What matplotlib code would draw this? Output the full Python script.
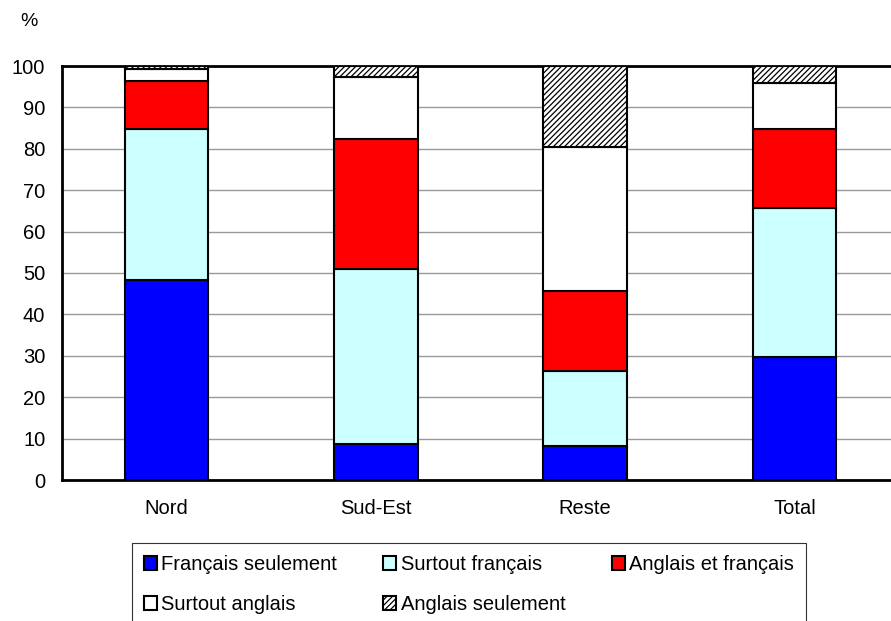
import numpy as np
import matplotlib.pyplot as plt
from matplotlib.patches import Patch

plt.rcParams['font.family'] = ['Liberation Sans', 'DejaVu Sans']
plt.rcParams['hatch.linewidth'] = 0.9

regions = ["Nord", "Sud-Est", "Reste", "Total"]
series = ["Français seulement", "Surtout français", "Anglais et français",
          "Surtout anglais", "Anglais seulement"]

fr_only = [48.3, 8.7, 8.2, 29.7]
mostly_fr = [36.5, 42.3, 18.1, 36.0]
en_fr = [11.6, 31.4, 19.4, 19.2]
mostly_en = [2.9, 14.9, 34.8, 10.9]
en_only = [0.7, 2.7, 19.5, 4.2]

values = [fr_only, mostly_fr, en_fr, mostly_en, en_only]
colors = ["#0000FF", "#CCFFFF", "#FF0000", "#FFFFFF", "#FFFFFF"]
hatches = [None, None, None, None, "//////"]

fig = plt.figure(figsize=(8.91, 6.21), dpi=100)
ax = fig.add_axes([62 / 891, 141 / 621, 837 / 891, 414 / 621])

x = np.arange(len(regions))
bottom = np.zeros(len(regions))
for vals, col, h in zip(values, colors, hatches):
    ax.bar(x, vals, width=0.4, bottom=bottom, color=col, edgecolor="black",
           linewidth=1.5, hatch=h, zorder=3)
    bottom += np.array(vals)

ax.set_xlim(-0.5, 3.5)
ax.set_ylim(0, 100)
ax.set_yticks(range(0, 101, 10))
ax.set_xticks(x)
ax.set_xticklabels(regions)
ax.tick_params(axis="both", length=0, labelsize=14.5)
ax.tick_params(axis="y", pad=12)
ax.tick_params(axis="x", pad=14)
ax.yaxis.grid(True, color="#999999", linewidth=1)
ax.set_axisbelow(True)
for s in ["left", "bottom", "top"]:
    ax.spines[s].set_linewidth(2)
ax.spines["right"].set_visible(False)

fig.text(20 / 891, 1 - 21 / 621, "%", fontsize=14, va="center")

# reorder so the legend reads row by row
order = [0, 3, 1, 4, 2]
handles = [Patch(facecolor=colors[i], edgecolor="black", hatch=hatches[i],
                 linewidth=1.5) for i in order]
labels = [series[i] for i in order]
leg = fig.legend(handles, labels, ncol=3, loc="upper left",
                 bbox_to_anchor=(132 / 891, 1 - 543 / 621), fontsize=14.5,
                 frameon=True, fancybox=False, edgecolor="black",
                 handlelength=0.65, handleheight=0.65, handletextpad=0.2,
                 columnspacing=2.3, labelspacing=1.05, borderpad=0.6,
                 borderaxespad=0)
leg.get_frame().set_linewidth(0.8)

fig.savefig("out.png", dpi=100)
